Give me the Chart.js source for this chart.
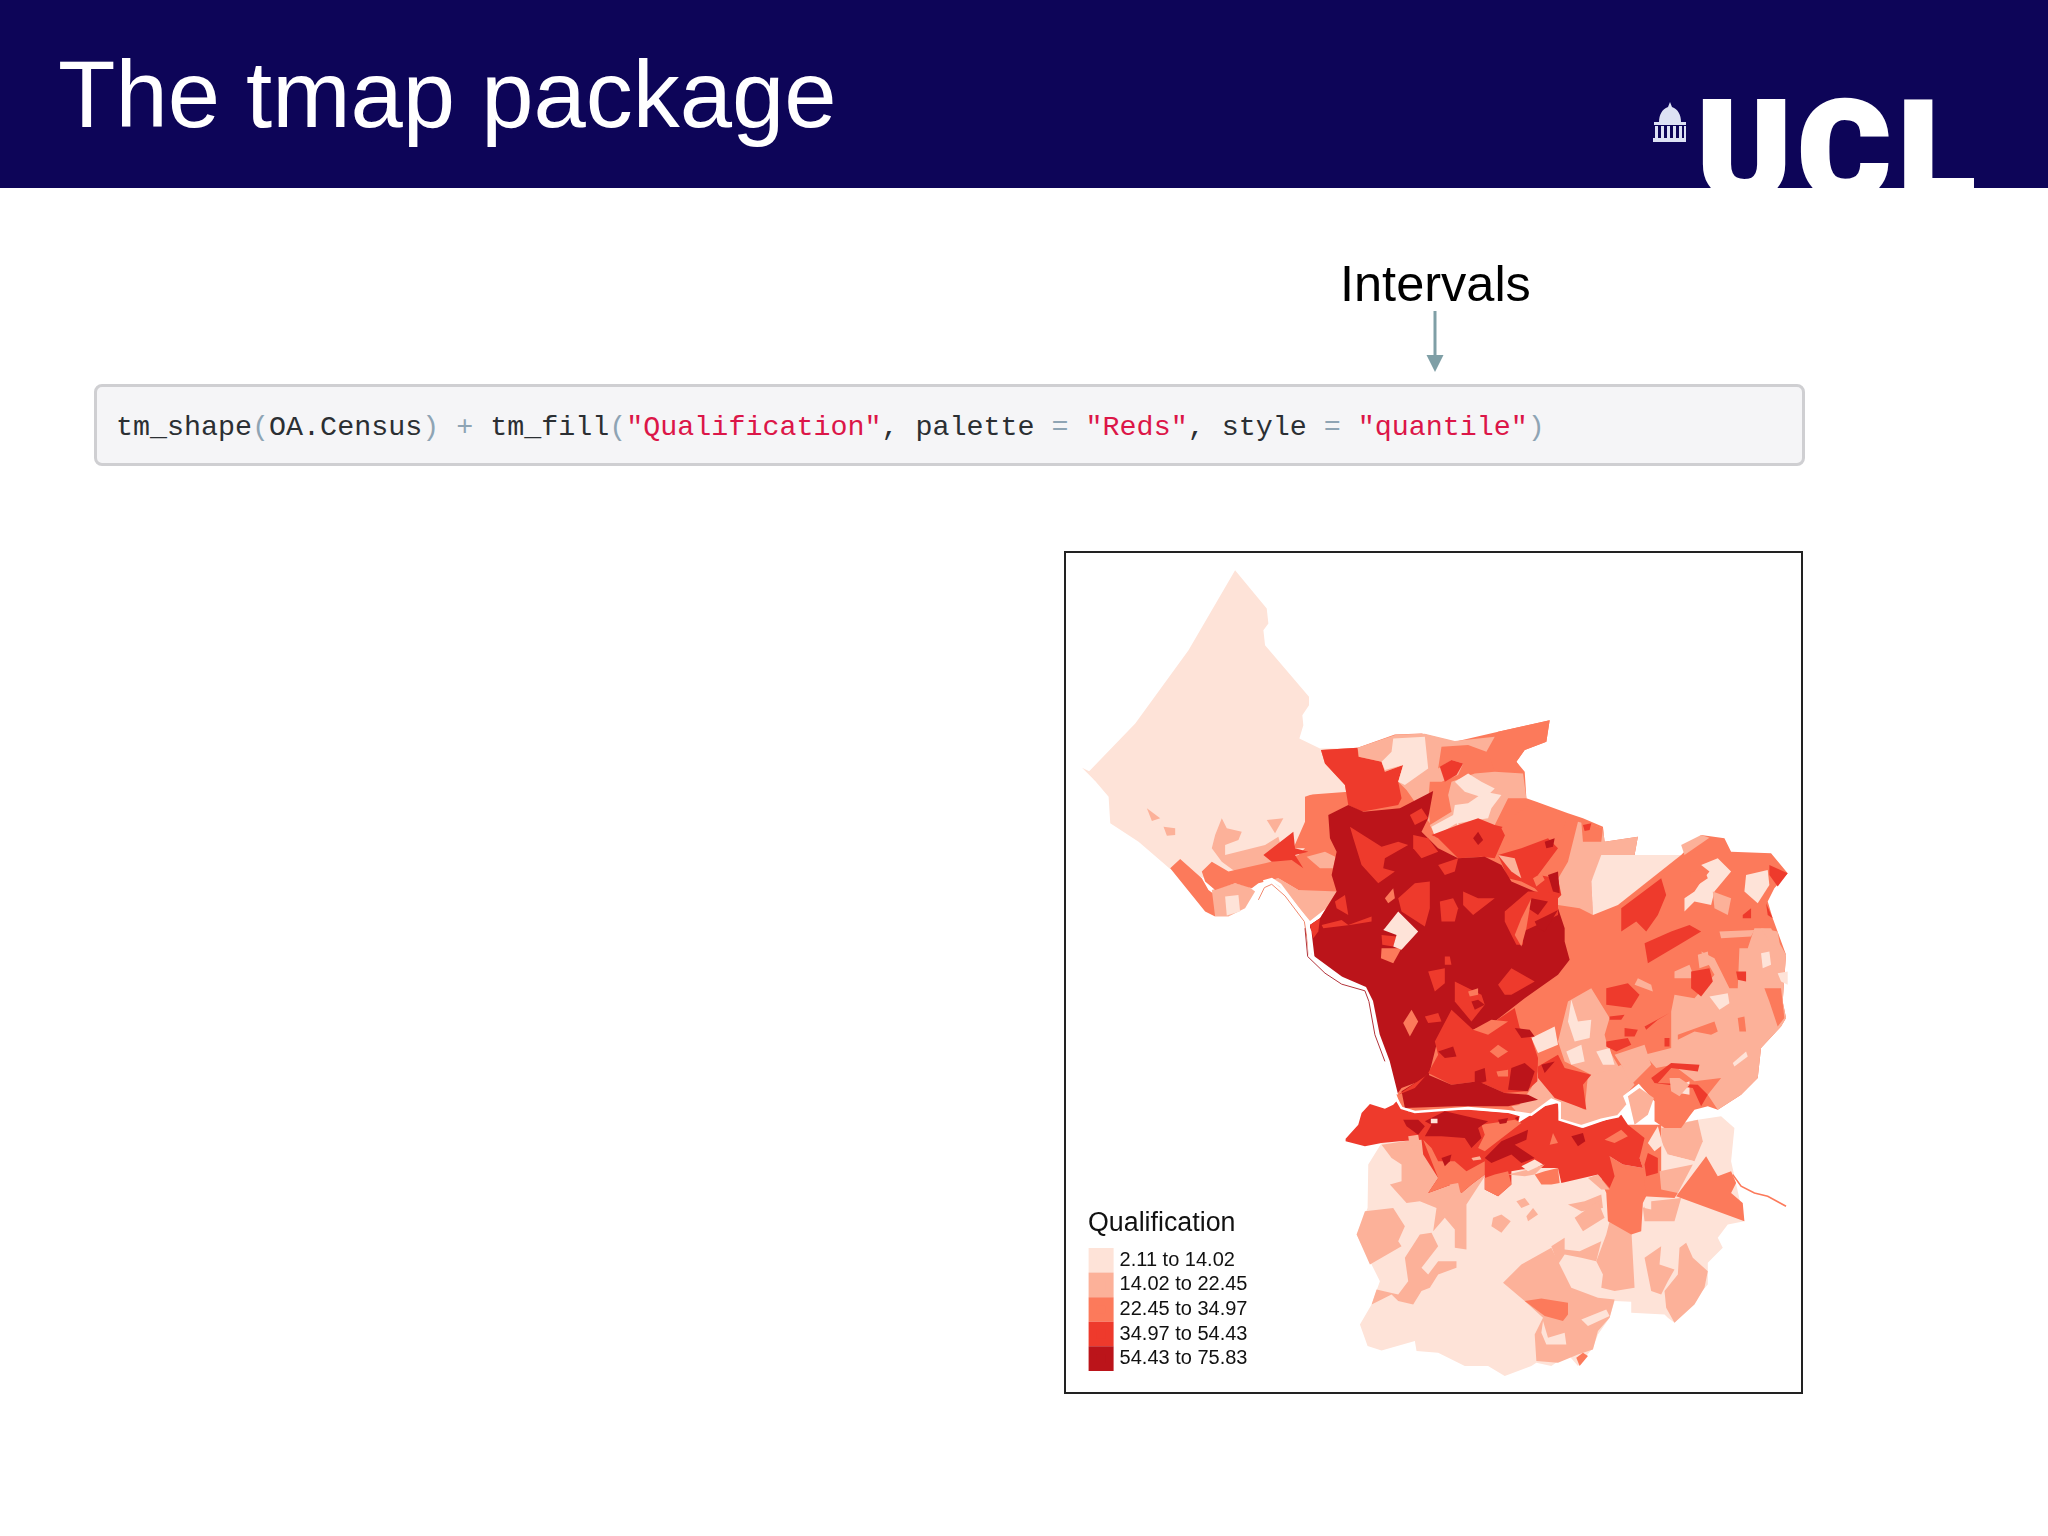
<!DOCTYPE html>
<html>
<head>
<meta charset="utf-8">
<title>The tmap package</title>
<script src="https://cdn.jsdelivr.net/npm/chart.js@4/dist/chart.umd.min.js"></script>
<style>
  html, body { margin: 0; padding: 0; background: #fff; }
  #slide { position: relative; width: 2048px; height: 1536px; overflow: hidden; font-family: "Liberation Sans", Arial, sans-serif; }
  #banner { position: absolute; left: 0; top: 0; width: 2048px; height: 188px; background: #0d0558; overflow: hidden; }
  #title { position: absolute; left: 58px; top: 41px; font-size: 94px; line-height: 108px; color: #fff; white-space: nowrap; }
  #logo { position: absolute; left: 0; top: 0; }
  #intervals { position: absolute; left: 1340px; top: 255px; font-size: 50.5px; line-height: 58px; color: #000; white-space: nowrap; }
  #arrow { position: absolute; left: 1420px; top: 310px; }
  #code { position: absolute; left: 94px; top: 384px; width: 1705px; height: 76px; background: #f5f5f7; border: 3px solid #cfcfd2; border-radius: 8px; }
  #code pre { position: absolute; left: 19px; top: 25px; margin: 0; font-family: "Liberation Mono", monospace; font-size: 28.35px; line-height: 32px; color: #2b2f33; }
  #code .p { color: #8ea4b4; }
  #code .s { color: #dc1648; }
  #frame { position: absolute; left: 1064px; top: 551px; width: 735px; height: 839px; border: 2px solid #222; }
  #frame canvas { display: block; }
</style>
</head>
<body>
<div id="slide">
  <div id="banner">
    <div id="title">The tmap package</div>
    <svg id="logo" width="2048" height="188">
      <g fill="#dde2f4">
        <path d="M1670 102 l2 5 c6 2 9 8 9 15 h-22 c0 -7 3 -13 9 -15 z"/>
        <rect x="1654" y="122" width="32" height="3"/>
        <rect x="1655" y="126" width="3" height="12"/><rect x="1661" y="126" width="3" height="12"/>
        <rect x="1667" y="126" width="3" height="12"/><rect x="1673" y="126" width="3" height="12"/>
        <rect x="1679" y="126" width="3" height="12"/><rect x="1684" y="126" width="2" height="12"/>
        <rect x="1653" y="138" width="33" height="4"/>
      </g>
      <text transform="translate(1702 198) scale(1.035 1)" x="-4 93 190" y="0" font-family="Roboto" font-weight="900" font-size="135" fill="#fff" stroke="#fff" stroke-width="4">UCL</text>
    </svg>
  </div>
  <div id="intervals">Intervals</div>
  <svg id="arrow" width="30" height="64"><path d="M15 1 V46" stroke="#7f9fa6" stroke-width="3" fill="none"/><path d="M6.5 45 H23.5 L15 62 z" fill="#7f9fa6"/></svg>
  <div id="code"><pre>tm_shape<span class="p">(</span>OA.Census<span class="p">)</span> <span class="p">+</span> tm_fill<span class="p">(</span><span class="s">"Qualification"</span>, palette <span class="p">=</span> <span class="s">"Reds"</span>, style <span class="p">=</span> <span class="s">"quantile"</span><span class="p">)</span></pre></div>
  <div id="frame"><canvas id="mapChart" width="735" height="839"></canvas></div>
</div>
<script>
const legendTitle = 'Qualification';
const classLabels = ['2.11 to 14.02', '14.02 to 22.45', '22.45 to 34.97', '34.97 to 54.43', '54.43 to 75.83'];
const classColors = ['#fee3d8', '#fcb199', '#fc7a5b', '#ee3a2c', '#bb141a'];

// map extent, in map units
const mapWidth = 2208;
const mapHeight = 2520;

// each patch is [class, x, y, x, y, ...] in the units of its sheet, later patches lie on top
const westOrigin = [18, 27];
const westPatches = [
  [0, 490,25, 585,140, 590,185, 575,205, 580,250, 712,405, 712,430, 692,460, 695,490, 683,530, 745,560, 860,560, 840,640, 860,700, 800,900, 400,950, 295,922, 200,840, 115,785, 110,705, 48,632, 190,485, 350,265],
  [0, 30,618, 75,640, 70,658],
  [1, 225,740, 265,770, 240,778],
  [1, 275,795, 310,800, 310,820, 285,822],
  [1, 585,775, 635,770, 610,815],
  [1, 450,770, 465,800, 510,810, 500,835, 460,850, 460,880, 580,850, 620,825, 640,900, 490,930, 450,900, 420,860, 430,820],
  [2, 295,920, 325,892, 390,950, 410,985, 430,1000, 430,1065, 400,1050],
  [1, 420,985, 490,965, 530,975, 550,990, 520,1040, 470,1065, 430,1065],
  [0, 460,1005, 500,1000, 505,1050, 465,1062],
  [1, 600,955, 620,950, 680,985, 800,985, 790,1020, 715,1078, 650,1000],
  [2, 390,930, 420,900, 470,930, 580,905, 680,880, 700,860, 665,860, 700,780, 700,700, 830,690, 850,860, 800,990, 680,985, 620,950, 560,965, 540,980, 490,965, 430,985, 400,960],
  [1, 705,885, 760,870, 800,890, 790,920, 745,920],
  [3, 665,810, 670,860, 710,870, 670,880, 695,920, 660,895, 600,900, 575,880],
  [0, 700,685, 730,680, 770,680, 700,705]
];

const southOrigin = [648, 1527];
const southPatches = [
  [0, 260,310, 300,245, 360,240, 1100,200, 1250,175, 1320,165, 1360,200, 1350,300, 1390,480, 1340,490, 1310,530, 1325,560, 1280,605, 1280,670, 1180,785, 1160,770, 1150,760, 1050,755, 1050,722, 1000,720, 985,770, 950,820, 935,860, 890,915, 860,880, 810,915, 765,905, 750,915, 670,945, 620,915, 550,915, 470,875, 405,870, 400,840, 300,868, 258,855, 235,790, 270,730, 295,660, 265,600, 225,520, 258,440],
  [1, 250,450, 335,440, 370,495, 350,540, 360,555, 265,610, 225,520],
  [1, 330,290, 300,250, 430,230, 620,330, 555,430, 555,565, 520,560, 520,505, 490,470, 455,510, 465,440, 415,420, 375,425, 325,370, 360,360, 360,310],
  [1, 415,520, 450,515, 470,555, 420,620, 440,640, 470,600, 525,600, 525,620, 470,640, 445,680, 420,690, 395,730, 350,720, 330,700, 270,730, 285,685, 350,700, 380,660, 370,590],
  [1, 665,665, 720,610, 810,560, 870,680, 950,710, 1000,715, 985,770, 950,810, 935,865, 890,880, 830,905, 765,900, 760,820, 785,770, 730,720],
  [2, 730,720, 780,712, 860,725, 860,760, 845,780, 790,765],
  [0, 785,780, 800,830, 850,815, 855,850, 795,850, 780,815],
  [0, 900,775, 975,745, 985,765, 920,795],
  [1, 945,600, 975,520, 985,480, 1050,500, 1060,680, 1000,690, 960,680, 965,640],
  [1, 810,555, 850,530, 850,565, 895,570, 960,540, 945,600, 900,590, 850,580, 830,610],
  [1, 1090,590, 1140,555, 1135,610, 1180,625, 1160,660, 1140,700, 1110,690],
  [1, 1195,560, 1215,545, 1235,590, 1280,630, 1270,680, 1240,730, 1180,785, 1155,740, 1150,690, 1190,640],
  [1, 635,470, 660,460, 688,480, 660,515, 630,495],
  [1, 705,420, 730,410, 745,430, 720,440],
  [1, 735,465, 755,440, 770,460, 740,480],
  [1, 860,430, 910,420, 960,400, 965,440, 900,450],
  [1, 880,470, 950,420, 970,470, 905,510],
  [2, 1040,190, 1140,190, 1140,330, 1190,395, 1180,410, 1085,405, 1085,320],
  [1, 1110,420, 1200,410, 1180,480, 1090,480, 1085,440],
  [1, 1140,200, 1250,175, 1265,240, 1240,300, 1160,280, 1140,240],
  [0, 1100,245, 1130,195, 1145,250, 1120,270],
  [0, 1160,280, 1240,300, 1220,320, 1165,305],
  [1, 1135,330, 1235,310, 1190,395, 1140,385],
  [3, 1090,310, 1100,275, 1130,290, 1130,335, 1095,345],
  [0, 1090,410, 1110,410, 1110,445, 1090,440],
  [2, 1185,405, 1275,285, 1310,345, 1350,330, 1365,365, 1350,395, 1385,425, 1390,480],
  [2, 975,395, 960,360, 985,285, 1025,310, 1085,320, 1095,405, 1085,425, 1080,510, 1050,520, 980,480],
  [1, 920,350, 950,340, 985,385, 960,385],
  [2, 760,340, 790,330, 830,320, 835,365, 810,370, 780,370],
  [3, 192,232, 230,190, 240,155, 265,128, 310,142, 335,130, 345,120, 380,150, 560,145, 680,155, 715,165, 710,185, 790,135, 830,125, 835,170, 905,200, 1020,160, 1040,190, 1090,230, 1075,290, 1085,320, 1025,310, 985,285, 1000,345, 985,380, 950,340, 840,365, 830,320, 770,320, 720,325, 690,330, 690,370, 650,405, 610,385, 610,340, 570,370, 540,395, 510,370, 440,395, 470,350, 425,280, 420,235, 355,240, 300,245, 250,255, 192,240],
  [2, 425,235, 450,260, 470,300, 520,300, 555,330, 610,300, 610,340, 570,370, 540,395, 510,370, 440,395, 470,350],
  [2, 600,190, 700,175, 720,185, 610,270, 590,260, 610,220],
  [2, 610,350, 640,340, 680,330, 690,370, 650,405, 610,385],
  [2, 970,235, 1020,205, 1040,225, 1000,245],
  [1, 680,340, 740,325, 790,310, 760,340, 730,345],
  [0, 720,315, 760,295, 785,310, 740,330],
  [1, 380,225, 410,220, 415,250, 385,255],
  [1, 505,370, 530,365, 538,400, 515,405],
  [1, 570,290, 595,285, 600,295, 575,298],
  [4, 365,175, 410,175, 430,195, 410,220, 375,195],
  [4, 430,180, 490,150, 620,180, 590,200, 600,230, 570,260, 550,230, 480,225, 430,225, 450,190],
  [4, 660,240, 740,205, 735,235, 700,250, 760,290, 720,305, 690,280, 630,305, 610,290],
  [4, 870,225, 905,215, 912,240, 890,255],
  [4, 480,290, 510,280, 505,300, 490,315],
  [4, 650,175, 680,170, 675,185, 655,188],
  [4, 700,170, 712,165, 710,178],
  [2, 815,215, 830,245, 805,250],
  [0, 448,172, 468,172, 468,186, 448,186],
  [2, 885,890, 905,875, 920,885, 895,915]
];

const eastOrigin = [648, 447];
const eastPatches = [
  [2, 118,145, 228,138, 340,98, 420,95, 520,120, 650,90, 805,55, 795,120, 730,145, 705,180, 730,210, 735,290, 765,300, 860,335, 905,350, 965,375, 970,420, 1070,405, 1060,460, 1200,460, 1260,400, 1330,410, 1350,450, 1470,455, 1520,515, 1480,560, 1460,600, 1475,650, 1515,760, 1505,900, 1515,950, 1500,975, 1440,1040, 1430,1130, 1380,1180, 1310,1225, 1280,1215, 1240,1225, 1225,1245, 1200,1280, 1150,1280, 1120,1260, 1120,1200, 1075,1150, 1030,1185, 1040,1210, 1010,1245, 960,1255, 900,1275, 835,1255, 835,1205, 810,1195, 750,1240, 680,1230, 560,1220, 400,1232, 360,1220, 345,1180, 320,1080, 290,1000, 270,900, 250,860, 180,830, 85,760, 85,670, 115,650, 165,570, 150,520, 165,450, 145,410, 140,340, 200,310, 190,250, 130,185],
  [1, 1515,760, 1505,900, 1515,950, 1500,975, 1440,1040, 1430,1130, 1380,1180, 1310,1225, 1280,1180, 1320,1130, 1240,1140, 1175,1090, 1125,1100, 1090,1060, 1170,1040, 1170,930, 1180,880, 1240,890, 1300,820, 1260,750, 1300,770, 1320,810, 1345,860, 1370,860, 1375,740, 1400,740, 1420,680, 1470,680],
  [1, 1040,1185, 1075,1160, 1118,1190, 1100,1240, 1060,1270],
  [2, 1190,1000, 1300,960, 1310,990, 1290,1000, 1240,990, 1190,1015],
  [2, 1370,950, 1390,945, 1395,990, 1375,990],
  [2, 1450,860, 1500,860, 1510,950, 1490,975, 1465,900],
  [1, 750,1160, 770,1110, 820,1150, 860,1200, 910,1225, 920,1120, 1000,1100, 1020,1090, 1060,1150, 1030,1185, 1040,1210, 1010,1245, 960,1255, 900,1275, 835,1255, 835,1205, 810,1195, 750,1240, 700,1230],
  [1, 860,900, 930,860, 985,950, 970,1000, 980,1040, 1015,1100, 930,1120, 850,1080, 830,1020, 845,960],
  [1, 1000,1060, 1090,1030, 1110,1090, 1050,1150, 1020,1090],
  [0, 870,895, 890,960, 930,955, 925,1010, 880,1020, 860,960],
  [0, 750,1010, 820,975, 830,1030, 770,1055],
  [0, 855,1050, 900,1030, 910,1080, 870,1090],
  [0, 945,1050, 985,1040, 1000,1090, 965,1090],
  [1, 1070,830, 1110,850, 1115,870, 1060,850],
  [1, 1180,810, 1225,790, 1240,830, 1180,830],
  [1, 1315,690, 1420,685, 1410,705, 1320,710],
  [1, 1440,680, 1490,690, 1500,750, 1465,720],
  [1, 1250,760, 1280,750, 1285,790, 1255,800],
  [0, 1285,885, 1340,875, 1345,905, 1315,925],
  [0, 1440,755, 1465,750, 1470,790, 1445,800],
  [0, 1490,815, 1520,810, 1520,850, 1500,840],
  [0, 1355,1085, 1395,1050, 1400,1065, 1360,1095],
  [0, 1200,1150, 1225,1140, 1225,1180, 1195,1175],
  [1, 890,360, 965,380, 970,420, 1070,405, 1060,460, 970,460, 930,540, 935,640, 895,620, 830,610, 825,540, 860,480],
  [0, 960,460, 1200,460, 1010,610, 935,640, 930,540],
  [1, 1200,430, 1260,400, 1285,408, 1210,460],
  [2, 900,360, 965,380, 960,420, 905,420],
  [3, 905,370, 930,365, 925,385, 910,388],
  [0, 1260,490, 1310,470, 1350,510, 1300,570, 1290,610, 1240,600, 1210,630, 1210,590, 1240,570, 1260,540, 1285,510],
  [2, 1230,510, 1270,505, 1280,530, 1250,550, 1225,540],
  [0, 1395,520, 1460,505, 1465,550, 1430,605, 1390,570],
  [1, 1295,570, 1350,590, 1340,640, 1300,620],
  [3, 1020,620, 1140,530, 1155,580, 1130,640, 1095,690, 1065,660, 1020,690],
  [3, 1090,725, 1170,690, 1225,670, 1260,690, 1210,720, 1100,785],
  [3, 1230,810, 1285,800, 1295,840, 1260,885, 1230,860],
  [3, 1465,490, 1520,515, 1490,555, 1465,520],
  [3, 1365,810, 1395,810, 1395,840, 1370,835],
  [3, 975,860, 1040,845, 1075,880, 1050,920, 975,910],
  [3, 985,945, 1030,940, 1020,955, 985,955],
  [3, 1110,1130, 1170,1085, 1255,1090, 1250,1110, 1170,1100, 1130,1145, 1250,1150, 1280,1180, 1260,1215, 1235,1160, 1120,1145],
  [3, 1090,975, 1165,935, 1130,955, 1095,985],
  [3, 975,1020, 1040,1010, 1050,1030, 1005,1050, 975,1035],
  [3, 1385,640, 1410,620, 1410,650, 1385,650],
  [3, 1455,605, 1475,650, 1460,640],
  [3, 1150,1010, 1165,1010, 1165,1035, 1150,1035],
  [3, 1030,980, 1070,985, 1060,1005, 1030,1005],
  [1, 1165,1130, 1195,1130, 1225,1150, 1195,1185, 1170,1170],
  [3, 118,145, 228,138, 230,165, 300,180, 310,210, 365,190, 350,240, 360,290, 350,310, 240,330, 200,310, 190,250, 130,185],
  [1, 228,138, 345,98, 430,96, 520,118, 640,105, 615,150, 560,130, 480,135, 470,200, 510,175, 545,185, 530,220, 480,240, 445,240, 440,300, 445,365, 375,265, 350,240, 365,190, 310,210, 300,180, 232,165],
  [0, 335,110, 430,105, 440,200, 370,250, 350,240, 365,190, 310,205, 300,180, 330,150],
  [3, 475,195, 510,175, 545,185, 525,220, 490,240],
  [2, 620,150, 650,90, 805,55, 795,120, 730,145, 705,180, 725,210, 690,210, 640,210],
  [1, 510,240, 580,215, 640,210, 725,215, 735,290, 680,290, 640,370, 530,390, 460,400, 445,370, 510,330, 500,280],
  [0, 450,375, 515,340, 520,310, 560,305, 610,270, 660,280, 630,320, 620,350, 585,355, 530,365, 540,395, 525,365, 460,405],
  [0, 520,240, 560,215, 600,240, 640,260, 610,290, 550,270],
  [3, 450,400, 530,370, 590,350, 640,370, 680,380, 640,470, 600,465, 530,470, 470,410],
  [2, 660,380, 700,340, 760,300, 860,340, 830,430, 800,410, 720,440, 680,420],
  [3, 720,440, 800,410, 830,440, 770,520, 830,530, 840,580, 810,610, 760,560, 720,540, 680,530, 650,460],
  [1, 650,460, 700,470, 720,530, 690,510],
  [2, 755,530, 780,515, 790,535, 765,555],
  [4, 590,390, 605,415, 590,430, 575,410],
  [4, 790,420, 820,410, 815,435, 795,440],
  [4, 800,520, 830,510, 835,575, 815,570],
  [4, 140,340, 200,310, 245,330, 355,320, 455,268, 440,350, 420,390, 470,440, 530,470, 610,465, 660,490, 690,540, 760,570, 820,590, 850,680, 850,720, 865,775, 830,820, 730,890, 640,960, 575,985, 470,1010, 440,1130, 360,1160, 345,1180, 320,1080, 290,1000, 270,900, 250,860, 180,830, 85,760, 85,670, 115,650, 165,570, 150,520, 165,450, 145,410],
  [3, 85,670, 115,650, 110,690, 95,710],
  [3, 215,410, 205,375, 300,435, 350,420, 380,430, 310,470, 305,500, 340,510, 290,545, 240,490],
  [3, 385,340, 420,320, 440,350, 400,370],
  [3, 395,400, 440,410, 470,450, 420,470, 395,440],
  [3, 470,490, 530,470, 520,510, 490,520],
  [2, 310,590, 335,560, 340,590, 320,605],
  [3, 350,590, 400,545, 445,540, 445,620, 430,675, 360,630],
  [3, 475,600, 515,590, 530,620, 520,660, 480,660],
  [3, 545,570, 590,590, 640,590, 575,640, 545,610],
  [3, 160,600, 190,580, 200,640, 165,620],
  [3, 120,670, 180,655, 200,670, 270,645, 270,660, 205,670, 125,680],
  [2, 300,740, 360,740, 335,785, 298,770],
  [3, 300,700, 345,705, 335,735, 302,730],
  [0, 310,680, 350,630, 410,690, 360,745, 335,735, 345,700, 305,685],
  [3, 670,630, 740,570, 800,570, 830,590, 830,640, 790,660, 725,690, 725,730, 705,730, 690,700, 670,660],
  [4, 750,590, 800,600, 770,640, 740,620],
  [4, 760,660, 800,640, 830,625, 790,690, 770,680],
  [2, 720,650, 750,590, 735,680, 720,735, 700,700],
  [3, 440,810, 490,800, 490,845, 460,870],
  [3, 520,840, 600,880, 610,910, 570,960, 520,900],
  [2, 560,870, 590,860, 590,880, 565,885],
  [3, 650,850, 690,800, 760,840, 690,880, 670,880],
  [2, 365,965, 390,925, 410,960, 385,1005],
  [3, 490,765, 505,765, 510,790, 490,790],
  [3, 430,945, 470,935, 480,960, 440,965],
  [3, 460,1020, 510,925, 575,985, 640,960, 700,920, 715,980, 750,1010, 770,1070, 768,1140, 735,1170, 670,1175, 590,1140, 510,1150, 440,1115, 470,1060],
  [4, 470,1050, 515,1035, 525,1065, 490,1070],
  [4, 580,1110, 610,1100, 615,1140, 580,1150],
  [4, 690,1100, 730,1085, 760,1110, 740,1170, 680,1165],
  [4, 700,980, 745,985, 760,1005, 720,1010],
  [4, 570,900, 590,895, 610,910, 580,925],
  [2, 625,1050, 650,1030, 680,1050, 650,1070],
  [2, 645,1110, 680,1105, 680,1125, 650,1125],
  [2, 575,985, 630,955, 680,960, 620,1000],
  [3, 770,1095, 830,1060, 850,1100, 930,1120, 905,1150, 915,1225, 820,1190, 770,1130],
  [4, 780,1090, 820,1080, 790,1115],
  [4, 360,1170, 440,1120, 510,1150, 590,1140, 670,1175, 740,1180, 770,1195, 680,1215, 520,1215, 370,1220],
  [3, 350,1180, 430,1125, 440,1115, 400,1160],
  [1, 690,1215, 750,1205, 800,1185, 750,1235, 700,1225]
];

// river and stream lines, in the same sheet units
const westRiver = [575,960, 600,953, 625,970, 700,1070, 715,1110, 725,1195];
const westBank = [560,1015, 578,978, 600,968, 640,1003, 698,1080, 706,1130, 712,1180];
const eastRiver = [78,665, 85,760, 180,830, 250,860, 270,900, 290,1000, 320,1080, 345,1180];
const eastBank = [70,680, 78,765, 130,815, 180,848, 250,868, 262,900, 280,1000, 310,1080];
const southRiver = [340,105, 360,140, 400,152, 560,140, 680,150, 750,160, 810,115, 835,125, 835,175, 900,195, 960,175, 1010,165, 1040,130, 1030,105, 1075,70];
const southStream = [1355,340, 1380,375, 1420,395, 1460,405, 1515,435];

function toPoints(coords, origin) {
  const points = [];
  for (let i = 0; i + 1 < coords.length; i += 2) {
    points.push({ x: coords[i] + origin[0], y: coords[i + 1] + origin[1] });
  }
  return points;
}

function patchDatasets(patches, origin) {
  return patches.map(patch => ({
    data: toPoints(patch.slice(1), origin).concat(toPoints(patch.slice(1, 3), origin)),
    backgroundColor: classColors[patch[0]],
    borderWidth: 0,
    fill: 'shape',
  }));
}

function lineDataset(coords, origin, color, width) {
  return { data: toPoints(coords, origin), borderColor: color, borderWidth: width, fill: false };
}

// Chart.js paints the first dataset last, so the list is turned round
const datasets = [
  ...patchDatasets(westPatches, westOrigin),
  ...patchDatasets(southPatches, southOrigin),
  ...patchDatasets(eastPatches, eastOrigin),
  lineDataset(westRiver, westOrigin, '#fff', 3),
  lineDataset(westBank, westOrigin, '#f08a70', 1),
  lineDataset(eastRiver, eastOrigin, '#fff', 3),
  lineDataset(eastBank, eastOrigin, '#b3343b', 1),
  lineDataset(southRiver, southOrigin, '#fff', 2.6),
  lineDataset(southStream, southOrigin, classColors[2], 1.6),
].reverse();

// the legend sits in the lower left corner of the frame
const legendCorner = {
  id: 'legendCorner',
  afterLayout(chart) {
    chart.legend.left = 22;
    chart.legend.top = 657;
  },
};

new Chart(document.getElementById('mapChart').getContext('2d'), {
  type: 'line',
  data: { datasets },
  plugins: [legendCorner],
  options: {
    responsive: false,
    animation: false,
    events: [],
    layout: { padding: 0 },
    elements: { point: { radius: 0 }, line: { tension: 0 } },
    scales: {
      x: { type: 'linear', display: false, min: 0, max: mapWidth },
      y: { type: 'linear', display: false, min: 0, max: mapHeight, reverse: true },
    },
    plugins: {
      tooltip: { enabled: false },
      legend: {
        position: 'chartArea',
        align: 'start',
        title: { display: true, position: 'start', text: legendTitle, color: '#111', padding: { top: 0, bottom: 3.5 }, font: { family: 'Liberation Sans', size: 26.8 } },
        labels: {
          color: '#111',
          font: { family: 'Liberation Sans', size: 20 },
          boxWidth: 17,
          boxHeight: 16.6,
          padding: 4.6,
          generateLabels: () => classLabels.map((text, i) => ({
            text,
            fillStyle: classColors[i],
            strokeStyle: classColors[i],
            lineWidth: 8,
            fontColor: '#111',
            hidden: false,
          })),
        },
      },
    },
  },
});
</script>
</body>
</html>
